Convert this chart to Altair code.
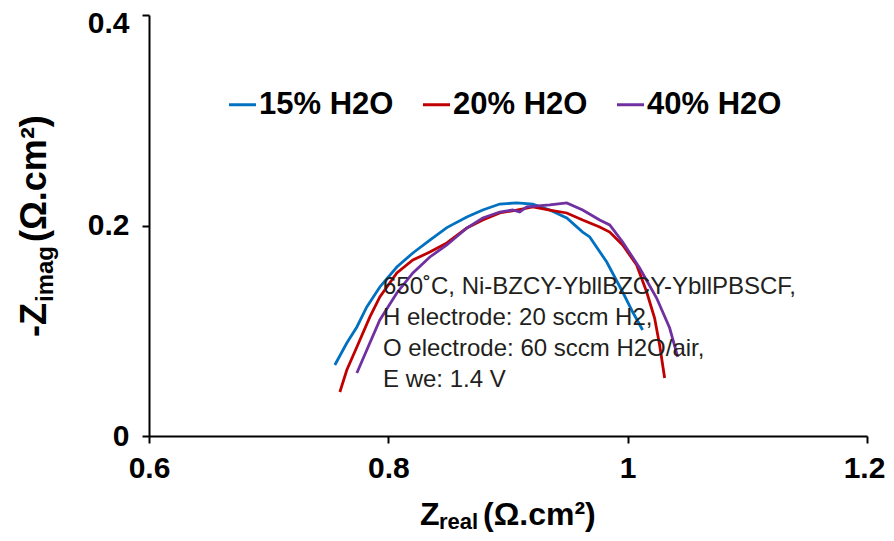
import altair as alt
import pandas as pd

FONT = "Liberation Sans"

series_names = ["15% H2O", "20% H2O", "40% H2O"]
series_colors = ["#0070C0", "#C00000", "#7030A0"]

# 15% H2O
zreal_15 = [0.7553, 0.7653, 0.7737, 0.7820, 0.7929, 0.8071, 0.8205, 0.8347, 0.8489,
            0.8656, 0.8789, 0.8931, 0.9073, 0.9207, 0.9349, 0.9491, 0.9624, 0.9683,
            0.9825, 0.9958, 1.0042, 1.0125]
zimag_15 = [0.0675, 0.0884, 0.1036, 0.1226, 0.1416, 0.1606, 0.1739, 0.1862, 0.1980,
            0.2081, 0.2147, 0.2204, 0.2214, 0.2204, 0.2147, 0.2071, 0.1938, 0.1891,
            0.1653, 0.1368, 0.1178, 0.1007]

# 20% H2O
zreal_20 = [0.7595, 0.7653, 0.7737, 0.7846, 0.7929, 0.8071, 0.8205, 0.8347, 0.8489,
            0.8656, 0.8789, 0.8931, 0.9073, 0.9207, 0.9349, 0.9491, 0.9624, 0.9766,
            0.9850, 0.9958, 1.0075, 1.0159, 1.0225, 1.0267, 1.0309]
zimag_20 = [0.0418, 0.0627, 0.0846, 0.1131, 0.1321, 0.1549, 0.1672, 0.1748, 0.1834,
            0.1976, 0.2052, 0.2119, 0.2147, 0.2176, 0.2147, 0.2119, 0.2052, 0.1986,
            0.1938, 0.1815, 0.1625, 0.1368, 0.1121, 0.0865, 0.0551]

# 40% H2O
zreal_40 = [0.7737, 0.7820, 0.7929, 0.8071, 0.8205, 0.8347, 0.8489, 0.8656, 0.8789,
            0.8931, 0.9040, 0.9098, 0.9157, 0.9349, 0.9491, 0.9624, 0.9766, 0.9850,
            0.9958, 1.0100, 1.0242, 1.0351, 1.0418]
zimag_40 = [0.0599, 0.0817, 0.1102, 0.1359, 0.1549, 0.1701, 0.1815, 0.1976, 0.2071,
            0.2128, 0.2147, 0.2128, 0.2176, 0.2195, 0.2214, 0.2147, 0.2052, 0.2005,
            0.1843, 0.1596, 0.1311, 0.1026, 0.0751]

x_ticks = [0.6, 0.8, 1.0, 1.2]
y_ticks = [0, 0.2, 0.4]

annotation_lines = [
    "650\u02daC, Ni-BZCY-YbllBZCY-YbllPBSCF,",
    "H electrode: 20 sccm H2,",
    "O electrode: 60 sccm H2O/air,",
    "E we: 1.4 V",
]

rows = []
for name, xs, ys in zip(series_names, [zreal_15, zreal_20, zreal_40], [zimag_15, zimag_20, zimag_40]):
    for i, (xv, yv) in enumerate(zip(xs, ys)):
        rows.append({"series": name, "zreal": xv, "zimag": yv, "idx": i})
df = pd.DataFrame(rows)
one = pd.DataFrame({"a": [0]})

lines = alt.Chart(df).mark_line(strokeWidth=2.8).encode(
    x=alt.X("zreal:Q",
            scale=alt.Scale(domain=[0.6, 1.2], nice=False, zero=False),
            axis=alt.Axis(values=x_ticks, format="~g", title=None, grid=False,
                          labelFont=FONT, labelFontSize=30, labelFontWeight="bold",
                          labelColor="black", labelPadding=10, tickSize=7,
                          tickColor="black", tickWidth=2, domainColor="black",
                          domainWidth=2, labelFlush=False,
                          labelOffset=alt.condition("datum.value >= 1.2", alt.value(-3), alt.value(0)))),
    y=alt.Y("zimag:Q",
            scale=alt.Scale(domain=[0, 0.4], nice=False),
            axis=alt.Axis(values=y_ticks, format="~g", title=None, grid=False,
                          labelFont=FONT, labelFontSize=30, labelFontWeight="bold",
                          labelColor="black", labelPadding=13, tickSize=7,
                          tickColor="black", tickWidth=2, domainColor="black",
                          domainWidth=2, labelFlush=False,
                          labelOffset=alt.condition("datum.value >= 0.4", alt.value(8), alt.value(0)))),
    color=alt.Color("series:N",
                    scale=alt.Scale(domain=series_names, range=series_colors),
                    legend=alt.Legend(title=None, orient="none", legendX=78, legendY=74,
                                      direction="horizontal", symbolType="stroke",
                                      symbolSize=729, symbolStrokeWidth=3,
                                      labelFont=FONT, labelFontSize=31,
                                      labelFontWeight="bold", labelColor="black",
                                      labelOffset=1, columnPadding=23, padding=0,
                                      labelLimit=400)),
    order="idx:Q",
)

annotation = alt.Chart(one).mark_text(
    align="left", baseline="alphabetic", font=FONT, fontSize=24,
    color="#231F20", lineBreak="\n", lineHeight=31,
).encode(x=alt.value(234), y=alt.value(279), text=alt.value("\n".join(annotation_lines)))

# x-axis title: Z_real (Ω.cm²)
xt_main = alt.Chart(one).mark_text(align="left", baseline="alphabetic", font=FONT,
                                   fontSize=32, fontWeight="bold", color="black").encode(
    x=alt.value(271), y=alt.value(510), text=alt.value("Z"))
xt_sub = alt.Chart(one).mark_text(align="left", baseline="alphabetic", font=FONT,
                                  fontSize=22, fontWeight="bold", color="black").encode(
    x=alt.value(290), y=alt.value(514), text=alt.value("real"))
xt_unit = alt.Chart(one).mark_text(align="left", baseline="alphabetic", font=FONT,
                                   fontSize=32, fontWeight="bold", color="black").encode(
    x=alt.value(334), y=alt.value(510), text=alt.value("(\u03a9.cm\u00b2)"))

# y-axis title: -Z_imag (Ω.cm²)
yt_main = alt.Chart(one).mark_text(align="left", baseline="alphabetic", font=FONT,
                                   fontSize=36, fontWeight="bold", color="black",
                                   angle=270).encode(
    x=alt.value(-103), y=alt.value(322), text=alt.value("-Z"))
yt_sub = alt.Chart(one).mark_text(align="left", baseline="alphabetic", font=FONT,
                                  fontSize=24, fontWeight="bold", color="black",
                                  angle=270).encode(
    x=alt.value(-96), y=alt.value(287), text=alt.value("imag"))
yt_unit = alt.Chart(one).mark_text(align="left", baseline="alphabetic", font=FONT,
                                   fontSize=36, fontWeight="bold", color="black",
                                   angle=270).encode(
    x=alt.value(-103), y=alt.value(227), text=alt.value("(\u03a9.cm\u00b2)"))

chart = alt.layer(lines, annotation, xt_main, xt_sub, xt_unit, yt_main, yt_sub, yt_unit).properties(
    width=718, height=421,
    autosize=alt.AutoSizeParams(type="none"),
    padding={"left": 141, "top": 7, "right": 19, "bottom": 97},
    background="white",
).configure_view(stroke=None)

chart.save("out.html", embed_options={"renderer": "svg", "actions": False})
